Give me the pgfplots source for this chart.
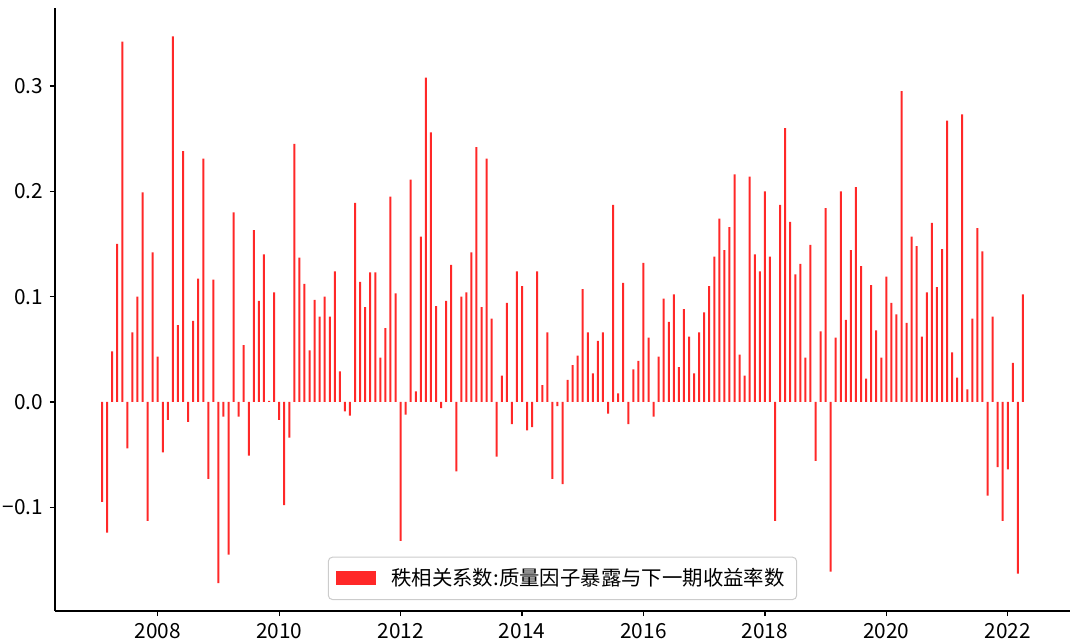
\documentclass[border=0pt]{standalone}
\usepackage{fontspec}
\setmainfont{Noto Sans CJK SC}
\usepackage{pgfplots}
\pgfplotsset{compat=1.18}
\definecolor{barred}{RGB}{255,40,40}
\pgfplotstableread{
i v
1 -0.095
2 -0.124
3 0.048
4 0.150
5 0.342
6 -0.044
7 0.066
8 0.100
9 0.199
10 -0.113
11 0.142
12 0.043
13 -0.048
14 -0.017
15 0.347
16 0.073
17 0.238
18 -0.019
19 0.077
20 0.117
21 0.231
22 -0.073
23 0.116
24 -0.172
25 -0.014
26 -0.145
27 0.180
28 -0.014
29 0.054
30 -0.051
31 0.163
32 0.096
33 0.140
34 0.001
35 0.104
36 -0.017
37 -0.098
38 -0.034
39 0.245
40 0.137
41 0.112
42 0.049
43 0.097
44 0.081
45 0.100
46 0.081
47 0.124
48 0.029
49 -0.009
50 -0.013
51 0.189
52 0.114
53 0.090
54 0.123
55 0.123
56 0.042
57 0.070
58 0.195
59 0.103
60 -0.132
61 -0.012
62 0.211
63 0.010
64 0.157
65 0.308
66 0.256
67 0.091
68 -0.006
69 0.096
70 0.130
71 -0.066
72 0.100
73 0.104
74 0.142
75 0.242
76 0.090
77 0.231
78 0.079
79 -0.052
80 0.025
81 0.094
82 -0.021
83 0.124
84 0.110
85 -0.027
86 -0.024
87 0.124
88 0.016
89 0.066
90 -0.073
91 -0.004
92 -0.078
93 0.021
94 0.035
95 0.044
96 0.107
97 0.066
98 0.027
99 0.058
100 0.066
101 -0.011
102 0.187
103 0.008
104 0.113
105 -0.021
106 0.031
107 0.039
108 0.132
109 0.061
110 -0.014
111 0.043
112 0.098
113 0.076
114 0.102
115 0.033
116 0.088
117 0.062
118 0.027
119 0.066
120 0.085
121 0.110
122 0.138
123 0.174
124 0.144
125 0.166
126 0.216
127 0.045
128 0.025
129 0.214
130 0.140
131 0.124
132 0.200
133 0.138
134 -0.113
135 0.187
136 0.260
137 0.171
138 0.121
139 0.131
140 0.042
141 0.149
142 -0.056
143 0.067
144 0.184
145 -0.161
146 0.061
147 0.200
148 0.078
149 0.144
150 0.204
151 0.129
152 0.022
153 0.111
154 0.068
155 0.042
156 0.119
157 0.094
158 0.083
159 0.295
160 0.075
161 0.157
162 0.148
163 0.062
164 0.104
165 0.170
166 0.109
167 0.145
168 0.267
169 0.047
170 0.023
171 0.273
172 0.012
173 0.079
174 0.165
175 0.143
176 -0.089
177 0.081
178 -0.062
179 -0.113
180 -0.064
181 0.037
182 -0.163
183 0.102
}\datatable
\begin{document}
\begin{tikzpicture}
\path[use as bounding box] (0,0) rectangle (540pt,321pt);
\begin{axis}[
  at={(27.5pt,15.5pt)}, anchor=south west,
  scale only axis, width=507.5pt, height=301.5pt,
  xmin=-8.3, xmax=192.3, ymin=-0.1985, ymax=0.374,
  axis x line*=bottom, axis y line*=left,
  axis line style={-, line width=0.6pt, black},
  tick align=outside, major tick length=2.5pt,
  tick style={line width=0.6pt, black},
  xtick={12,36,60,84,108,132,156,180},
  xticklabels={2008,2010,2012,2014,2016,2018,2020,2022},
  ytick={-0.1,0,0.1,0.2,0.3},
  yticklabels={−0.1,0.0,0.1,0.2,0.3},
  /pgf/number format/assume math mode=true,
  ticklabel style={font=\fontsize{10.4pt}{12pt}\selectfont},
  legend style={at={(0.5,0)}, anchor=south, yshift=5.5pt,
    draw=black!20, rounded corners=2pt, line width=0.5pt,
    inner xsep=4pt, inner ysep=3.5pt,
    font=\fontsize{10.2pt}{12pt}\selectfont,
    /tikz/every odd column/.append style={column sep=5.5pt}},
  legend cell align=left,
]
\addplot[ybar, bar width=1pt, fill=barred, draw=none,
  legend image code/.code={\fill[barred, sharp corners] (0pt,-3.5pt) rectangle (20pt,3.5pt);}]
  table[x=i, y=v] {\datatable};
\addlegendentry{秩相关系数:质量因子暴露与下一期收益率数}
\end{axis}
\end{tikzpicture}
\end{document}
